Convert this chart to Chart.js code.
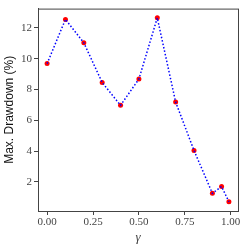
<!DOCTYPE html>
<html>
<head>
<meta charset="utf-8">
<script src="https://cdn.jsdelivr.net/npm/chart.js@4"></script>
<style>
  html, body { margin: 0; padding: 0; background: #fff; }
  #wrap { width: 249px; height: 249px; }
</style>
</head>
<body>
<div id="wrap"><canvas id="ddChart" width="249" height="249"></canvas></div>
<script>
// gamma values and max drawdown (%)
const gammas = [0, 0.1, 0.2, 0.3, 0.4, 0.5, 0.6, 0.7, 0.8, 0.9, 0.95, 0.99];
const drawdowns = [9.68, 12.55, 11.03, 8.45, 6.97, 8.68, 12.65, 7.18, 4.04, 1.26, 1.7, 0.71];
const xTicks = [0, 0.25, 0.5, 0.75, 1.0];
const yTicks = [2, 4, 6, 8, 10, 12];

const pts = gammas.map((g, i) => ({ x: g, y: drawdowns[i] }));

const boxPlugin = {
  id: 'box',
  afterDraw(chart) {
    const a = chart.chartArea, ctx = chart.ctx;
    ctx.save();
    ctx.strokeStyle = '#444';
    ctx.lineWidth = 1;
    ctx.strokeRect(a.left + 0.5, a.top + 0.5, a.right - a.left, a.bottom - a.top);
    ctx.restore();
  }
};

const tickFont = { family: 'Liberation Serif', size: 11 };

const ddChart = new Chart(document.getElementById('ddChart'), {
  type: 'scatter',
  data: {
    datasets: [{
      data: pts,
      backgroundColor: '#ff0000',
      borderWidth: 0,
      pointRadius: 2.5,
      order: 2
    }, {
      type: 'line',
      data: pts,
      borderColor: '#0000ff',
      borderWidth: 1.5,
      borderDash: [1.5, 2],
      pointRadius: 0,
      fill: false,
      order: 1
    }]
  },
  options: {
    responsive: false,
    animation: false,
    layout: { padding: { top: 7, right: 11, left: 2, bottom: 4 } },
    plugins: { legend: { display: false }, tooltip: { enabled: false } },
    scales: {
      x: {
        type: 'linear',
        min: -0.0495,
        max: 1.0395,
        afterBuildTicks: s => { s.ticks = xTicks.map(v => ({ value: v })); },
        afterFit: s => { s.height = 34; },
        grid: { drawOnChartArea: false, color: '#444', tickLength: 4 },
        border: { color: '#444' },
        ticks: {
          font: tickFont, color: '#444', padding: 1, maxRotation: 0,
          callback: v => v.toFixed(2)
        },
        title: {
          display: true, text: 'γ', color: '#444',
          font: { family: 'Liberation Serif', size: 13, style: 'italic' },
          padding: { top: 0, bottom: 0 }
        }
      },
      y: {
        min: 0.11,
        max: 13.25,
        afterBuildTicks: s => { s.ticks = yTicks.map(v => ({ value: v })); },
        afterFit: s => { s.width = 36; },
        grid: { drawOnChartArea: false, color: '#444', tickLength: 4 },
        border: { color: '#444' },
        ticks: { font: tickFont, color: '#444', padding: 2 },
        title: {
          display: true, text: 'Max. Drawdown (%)', color: '#111',
          font: { family: 'Liberation Sans', size: 12 },
          padding: { top: 0, bottom: 0 }
        }
      }
    }
  },
  plugins: [boxPlugin]
});
</script>
</body>
</html>
